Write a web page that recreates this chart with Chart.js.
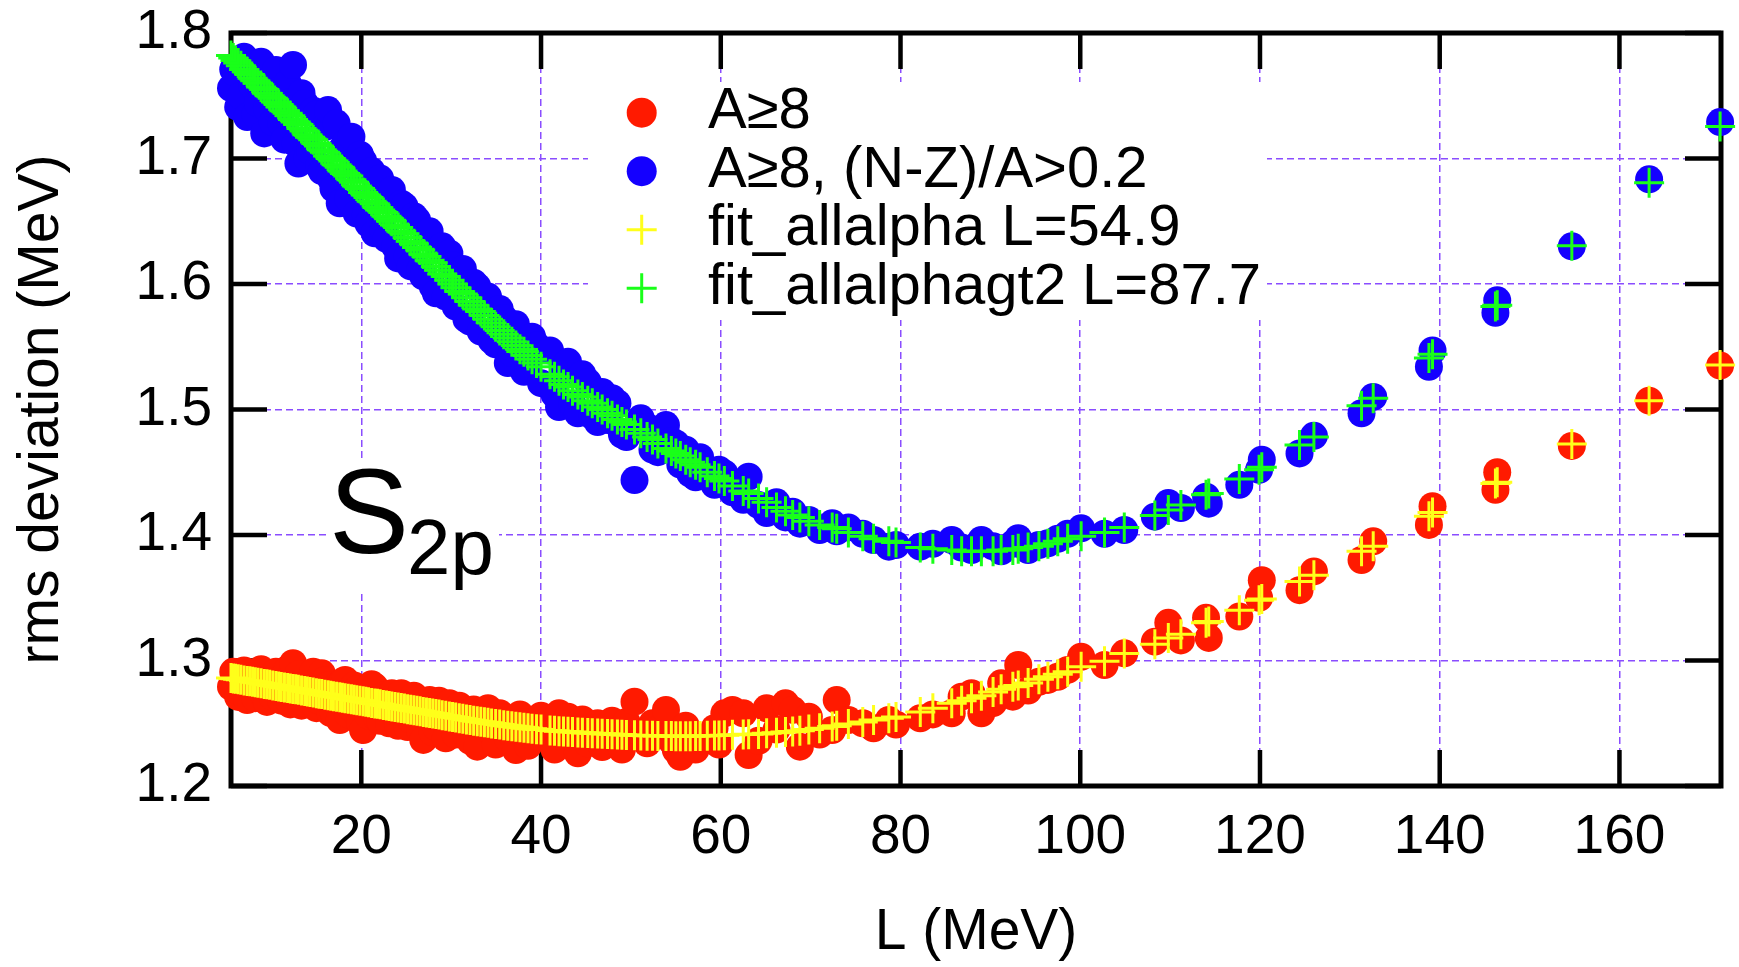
<!DOCTYPE html>
<html><head><meta charset="utf-8">
<script src="https://cdn.jsdelivr.net/npm/chart.js@4.4.1/dist/chart.umd.min.js"></script>
<style>html,body{margin:0;padding:0;background:#fff;overflow:hidden}#wrap{width:1739px;height:967px;position:relative}</style>
</head><body><div id="wrap"><canvas id="c" width="1739" height="967"></canvas></div>
<script>
// ---- data (L in MeV, rms deviation in MeV) ----
const L = [
 5.5, 5.75, 6.0, 6.3, 6.6, 6.95, 7.3, 7.6, 7.9, 8.2,
 8.5, 8.85, 9.2, 9.5, 9.8, 10.15, 10.5, 10.8, 11.1, 11.45,
 11.8, 12.1, 12.4, 12.7, 13.0, 13.35, 13.7, 14.0, 14.3, 14.65,
 15.0, 15.3, 15.6, 15.95, 16.3, 16.6, 16.9, 17.25, 17.6, 17.9,
 18.2, 18.55, 18.9, 19.2, 19.5, 19.85, 20.2, 20.5, 20.8, 21.15,
 21.5, 21.8, 22.1, 22.45, 22.8, 23.1, 23.4, 23.75, 24.1, 24.45,
 24.8, 25.15, 25.5, 25.85, 26.2, 26.55, 26.9, 27.25, 27.6, 27.95,
 28.3, 28.65, 29.0, 29.4, 29.8, 30.15, 30.5, 30.9, 31.3, 31.7,
 32.1, 32.5, 32.9, 33.3, 33.7, 34.1, 34.5, 34.95, 35.4, 35.85,
 36.3, 36.75, 37.2, 37.65, 38.1, 38.55, 39.0, 39.5, 40.0, 41.0,
 41.5, 42.0, 42.5, 43.0, 43.5, 44.1, 44.6, 45.2, 45.7, 46.3,
 46.8, 47.4, 47.9, 48.5, 49.0, 49.5, 50.4, 51.1, 51.8, 52.4,
 53.0, 53.9, 54.5, 55.0, 55.5, 56.1, 56.6, 57.2, 57.7, 58.5,
 59.3, 59.8, 60.4, 61.3, 62.5, 63.1, 64.2, 65.1, 66.2, 67.2,
 68.0, 68.8, 69.8, 71.0, 72.4, 72.9, 74.2, 75.8, 77.0, 78.7,
 79.5, 82.2, 83.6, 85.7, 86.8, 87.9, 89.0, 90.3, 91.2, 92.5,
 93.1, 94.2, 95.4, 96.4, 97.5, 98.6, 100.1, 102.7, 104.9, 108.3,
 109.8, 111.2, 114.0, 114.3, 117.7, 119.9, 120.2, 124.4, 126.0, 131.3,
 132.6, 138.8, 139.2, 146.2, 146.4, 154.7, 163.3, 171.2
];
// red circles: A>=8
const rmsA8 = [
 1.279, 1.291, 1.282, 1.271, 1.274, 1.292, 1.2685, 1.287, 1.277, 1.270,
 1.289, 1.293, 1.272, 1.267, 1.286, 1.271, 1.291, 1.284, 1.268, 1.276,
 1.293, 1.265, 1.2978, 1.283, 1.289, 1.264, 1.266, 1.280, 1.285, 1.291,
 1.262, 1.268, 1.2898, 1.284, 1.280, 1.258, 1.259, 1.279, 1.2526, 1.283,
 1.2845, 1.257, 1.262, 1.280, 1.277, 1.251, 1.2446, 1.276, 1.256, 1.281,
 1.279, 1.254, 1.252, 1.272, 1.271, 1.250, 1.2739, 1.258, 1.248, 1.274,
 1.266, 1.247, 1.253, 1.272, 1.2695, 1.244, 1.2367, 1.262, 1.2685, 1.243,
 1.247, 1.268, 1.262, 1.238, 1.2659, 1.252, 1.241, 1.264, 1.258, 1.240,
 1.236, 1.261, 1.2313, 1.248, 1.255, 1.262, 1.243, 1.233, 1.258, 1.255,
 1.238, 1.241, 1.2287, 1.257, 1.251, 1.232, 1.240, 1.252, 1.256, 1.236,
 1.229, 1.2579, 1.246, 1.2552, 1.238, 1.226, 1.253, 1.234, 1.247, 1.250,
 1.231, 1.244, 1.252, 1.2367, 1.229, 1.251, 1.2672, 1.242, 1.234, 1.250,
 1.245, 1.2606, 1.236, 1.2287, 1.2233, 1.248, 1.242, 1.229, 1.236, 1.2367,
 1.246, 1.233, 1.2579, 1.2606, 1.2579, 1.2247, 1.236, 1.2619, 1.245, 1.2659,
 1.2606, 1.2313, 1.2552, 1.241, 1.2446, 1.2685, 1.2525, 1.250, 1.246, 1.2526,
 1.249, 1.254, 1.257, 1.2579, 1.2712, 1.274, 1.2579, 1.266, 1.2818, 1.2712,
 1.2964, 1.276, 1.283, 1.2845, 1.287, 1.2925, 1.303, 1.2964, 1.3057, 1.315,
 1.330, 1.316, 1.334, 1.318, 1.335, 1.350, 1.364, 1.356, 1.371, 1.380,
 1.395, 1.408, 1.423, 1.436, 1.450, 1.471, 1.507, 1.535
];
// blue circles: A>=8, (N-Z)/A>0.2
const rmsA8nz = [
 1.756, 1.771, 1.768, 1.741, 1.750, 1.781, 1.733, 1.772, 1.758, 1.735,
 1.744, 1.777, 1.720, 1.740, 1.762, 1.729, 1.7705, 1.754, 1.728, 1.715,
 1.760, 1.745, 1.7745, 1.712, 1.696, 1.752, 1.744, 1.700, 1.706, 1.738,
 1.735, 1.694, 1.690, 1.725, 1.7386, 1.684, 1.676, 1.728, 1.6643, 1.708,
 1.712, 1.668, 1.7174, 1.694, 1.656, 1.703, 1.698, 1.655, 1.648, 1.690,
 1.6404, 1.678, 1.684, 1.643, 1.636, 1.668, 1.675, 1.630, 1.6204, 1.664,
 1.662, 1.622, 1.614, 1.654, 1.651, 1.611, 1.606, 1.640, 1.642, 1.598,
 1.5926, 1.628, 1.630, 1.590, 1.6244, 1.615, 1.582, 1.604, 1.612, 1.572,
 1.570, 1.601, 1.598, 1.562, 1.5846, 1.590, 1.555, 1.552, 1.580, 1.573,
 1.537, 1.545, 1.568, 1.560, 1.530, 1.533, 1.558, 1.551, 1.521, 1.547,
 1.512, 1.502, 1.531, 1.538, 1.504, 1.497, 1.528, 1.522, 1.495, 1.490,
 1.514, 1.4916, 1.509, 1.505, 1.480, 1.478, 1.4438, 1.493, 1.486, 1.468,
 1.466, 1.4876, 1.475, 1.473, 1.456, 1.468, 1.449, 1.446, 1.462, 1.4518,
 1.440, 1.452, 1.449, 1.434, 1.428, 1.4465, 1.424, 1.4175, 1.426, 1.414,
 1.4186, 1.409, 1.412, 1.404, 1.4093, 1.403, 1.406, 1.401, 1.396, 1.3907,
 1.392, 1.3907, 1.393, 1.396, 1.390, 1.388, 1.396, 1.391, 1.387, 1.393,
 1.3974, 1.388, 1.392, 1.3934, 1.397, 1.401, 1.4053, 1.401, 1.404, 1.4146,
 1.4255, 1.4215, 1.4305, 1.425, 1.440, 1.452, 1.460, 1.465, 1.479, 1.497,
 1.510, 1.534, 1.547, 1.577, 1.587, 1.630, 1.6834, 1.729
];
// yellow crosses: fit_allalpha
const fitAllalpha = [
 1.286, 1.2857, 1.2854, 1.285, 1.2846, 1.2841, 1.2837, 1.2834, 1.283, 1.2826,
 1.2822, 1.2818, 1.2813, 1.281, 1.2806, 1.2801, 1.2797, 1.2793, 1.2789, 1.2785,
 1.2781, 1.2777, 1.2773, 1.277, 1.2766, 1.2761, 1.2757, 1.2753, 1.2749, 1.2745,
 1.274, 1.2736, 1.2733, 1.2728, 1.2724, 1.272, 1.2716, 1.2712, 1.2708, 1.2704,
 1.270, 1.2696, 1.2691, 1.2688, 1.2684, 1.2679, 1.2675, 1.2671, 1.2667, 1.2662,
 1.2658, 1.2655, 1.2651, 1.2646, 1.2642, 1.2638, 1.2634, 1.263, 1.2626, 1.2621,
 1.2617, 1.2612, 1.2608, 1.2604, 1.2599, 1.2595, 1.259, 1.2586, 1.2582, 1.2578,
 1.2573, 1.2569, 1.2564, 1.2559, 1.2554, 1.255, 1.2545, 1.254, 1.2535, 1.253,
 1.2525, 1.252, 1.2516, 1.2511, 1.2507, 1.2503, 1.2499, 1.2494, 1.249, 1.2485,
 1.2481, 1.2477, 1.2473, 1.2469, 1.2465, 1.2461, 1.2457, 1.2453, 1.245, 1.2443,
 1.244, 1.2437, 1.2435, 1.2432, 1.243, 1.2427, 1.2425, 1.2422, 1.242, 1.2418,
 1.2416, 1.2414, 1.2412, 1.241, 1.2408, 1.2407, 1.2404, 1.2402, 1.2401, 1.240,
 1.2399, 1.2398, 1.2398, 1.2397, 1.2397, 1.2397, 1.2397, 1.2398, 1.2398, 1.240,
 1.2402, 1.2403, 1.2405, 1.2408, 1.241, 1.2412, 1.2415, 1.242, 1.2425, 1.243,
 1.2435, 1.244, 1.245, 1.246, 1.2475, 1.248, 1.2495, 1.251, 1.2525, 1.254,
 1.255, 1.259, 1.262, 1.266, 1.268, 1.270, 1.272, 1.275, 1.277, 1.279,
 1.280, 1.282, 1.285, 1.287, 1.289, 1.291, 1.295, 1.2995, 1.3055, 1.313,
 1.318, 1.321, 1.330, 1.331, 1.340, 1.348, 1.349, 1.363, 1.368, 1.387,
 1.391, 1.415, 1.418, 1.441, 1.442, 1.4725, 1.507, 1.5355
];
// green crosses: fit_allalphagt2
const fitAllalphagt2 = [
 1.782, 1.780, 1.778, 1.776, 1.774, 1.771, 1.769, 1.767, 1.764, 1.762,
 1.760, 1.757, 1.755, 1.752, 1.750, 1.748, 1.745, 1.743, 1.741, 1.738,
 1.736, 1.734, 1.731, 1.729, 1.727, 1.724, 1.722, 1.719, 1.717, 1.715,
 1.712, 1.710, 1.707, 1.705, 1.702, 1.700, 1.698, 1.695, 1.693, 1.690,
 1.688, 1.686, 1.683, 1.681, 1.678, 1.676, 1.673, 1.671, 1.669, 1.666,
 1.664, 1.661, 1.659, 1.657, 1.654, 1.652, 1.650, 1.647, 1.645, 1.642,
 1.640, 1.637, 1.634, 1.632, 1.629, 1.627, 1.624, 1.622, 1.619, 1.617,
 1.614, 1.611, 1.608, 1.606, 1.603, 1.600, 1.597, 1.594, 1.592, 1.589,
 1.586, 1.583, 1.580, 1.578, 1.575, 1.572, 1.569, 1.566, 1.563, 1.560,
 1.557, 1.554, 1.551, 1.548, 1.546, 1.543, 1.540, 1.537, 1.534, 1.528,
 1.526, 1.523, 1.520, 1.518, 1.515, 1.512, 1.510, 1.507, 1.505, 1.502,
 1.500, 1.497, 1.495, 1.492, 1.490, 1.488, 1.484, 1.481, 1.478, 1.476,
 1.473, 1.469, 1.467, 1.465, 1.463, 1.460, 1.458, 1.456, 1.454, 1.450,
 1.447, 1.445, 1.443, 1.439, 1.435, 1.433, 1.429, 1.426, 1.422, 1.419,
 1.416, 1.414, 1.411, 1.408, 1.406, 1.405, 1.402, 1.399, 1.397, 1.395,
 1.394, 1.390, 1.389, 1.388, 1.387, 1.387, 1.387, 1.387, 1.388, 1.388,
 1.389, 1.390, 1.391, 1.393, 1.395, 1.397, 1.399, 1.402, 1.406, 1.4155,
 1.420, 1.424, 1.432, 1.433, 1.4446, 1.452, 1.454, 1.4717, 1.478, 1.503,
 1.509, 1.541, 1.544, 1.582, 1.583, 1.6305, 1.6807, 1.7255
];
const seriesLabels = ['A\u22658', 'A\u22658, (N-Z)/A>0.2', 'fit_allalpha L=54.9', 'fit_allalphagt2 L=87.7'];
const xTicks = [20, 40, 60, 80, 100, 120, 140, 160];
const xTickLabels = ['20', '40', '60', '80', '100', '120', '140', '160'];
const yTicks = [1.2, 1.3, 1.4, 1.5, 1.6, 1.7, 1.8];
const yTickLabels = ['1.2', '1.3', '1.4', '1.5', '1.6', '1.7', '1.8'];
const xTitle = 'L (MeV)';
const yTitle = 'rms deviation (MeV)';
const panelLabel = ['S', '2p'];

// ---- styling ----
const FONT = '"Liberation Sans", Arial, Helvetica, sans-serif';
const COLORS = ['#ff1a00', '#1400ff', '#ffff1a', '#19ff19'];
const GRID = '#8a4dff';

const pts = (ys) => L.map((x, i) => ({x: x, y: ys[i]}));

const circleDS = (i, ys, order) => ({
  label: seriesLabels[i], data: pts(ys), pointStyle: 'circle',
  pointRadius: 14, pointHoverRadius: 14, pointBorderWidth: 0,
  backgroundColor: COLORS[i], borderColor: COLORS[i], showLine: false, clip: false, order: order
});
const crossDS = (i, ys, order) => ({
  label: seriesLabels[i], data: pts(ys), pointStyle: 'cross',
  pointRadius: 15, pointHoverRadius: 15, pointBorderWidth: 3,
  backgroundColor: COLORS[i], borderColor: COLORS[i], showLine: false, clip: false, order: order
});

const decor = {
  id: 'decor',
  beforeDatasetsDraw(chart) {
    const {ctx, chartArea: a, scales} = chart;
    const x = scales.x, y = scales.y;
    ctx.save();
    // opaque boxes behind key and panel label
    ctx.fillStyle = '#ffffff';
    ctx.fillRect(588, 82, 679, 238);
    ctx.fillRect(327, 460, 172, 133);
    // panel label S_2p
    ctx.fillStyle = '#000';
    ctx.textBaseline = 'alphabetic';
    ctx.textAlign = 'left';
    ctx.font = '120px ' + FONT;
    ctx.fillText(panelLabel[0], 329, 553);
    ctx.font = '78px ' + FONT;
    ctx.fillText(panelLabel[1], 407, 574);
    // frame
    ctx.strokeStyle = '#000';
    ctx.lineWidth = 5;
    ctx.strokeRect(a.left, a.top, a.right - a.left, a.bottom - a.top);
    // inward ticks on all sides
    ctx.lineWidth = 4.5;
    const T = 36;
    ctx.beginPath();
    xTicks.forEach(v => {
      const px = x.getPixelForValue(v);
      ctx.moveTo(px, a.bottom); ctx.lineTo(px, a.bottom - T);
      ctx.moveTo(px, a.top); ctx.lineTo(px, a.top + T);
    });
    yTicks.forEach(v => {
      const py = y.getPixelForValue(v);
      ctx.moveTo(a.left, py); ctx.lineTo(a.left + T, py);
      ctx.moveTo(a.right, py); ctx.lineTo(a.right - T, py);
    });
    ctx.stroke();
    ctx.restore();
  },
  afterDatasetsDraw(chart) {
    const ctx = chart.ctx;
    ctx.save();
    const mx = 641.7, tx = 708, y0 = 112.7, dy = 58.5;
    ctx.font = '58px ' + FONT;
    ctx.textAlign = 'left';
    ctx.textBaseline = 'alphabetic';
    [0, 1, 2, 3].forEach((k, r) => {
      const ds = chart.data.datasets[k];
      const cy = y0 + r * dy;
      if (ds.pointStyle === 'circle') {
        ctx.fillStyle = ds.backgroundColor;
        ctx.beginPath(); ctx.arc(mx, cy, 15, 0, Math.PI * 2); ctx.fill();
      } else {
        ctx.strokeStyle = ds.borderColor; ctx.lineWidth = 3;
        ctx.beginPath();
        ctx.moveTo(mx - 15, cy); ctx.lineTo(mx + 15, cy);
        ctx.moveTo(mx, cy - 15); ctx.lineTo(mx, cy + 15);
        ctx.stroke();
      }
      ctx.fillStyle = '#000';
      ctx.fillText(ds.label, tx, cy + 15.7);
    });
    ctx.restore();
  }
};

new Chart(document.getElementById('c'), {
  type: 'scatter',
  data: {
    datasets: [
      circleDS(0, rmsA8, 4),
      circleDS(1, rmsA8nz, 3),
      crossDS(2, fitAllalpha, 2),
      crossDS(3, fitAllalphagt2, 1)
    ]
  },
  options: {
    responsive: false, animation: false, devicePixelRatio: 1,
    layout: {padding: {left: 0, right: 8, top: 33, bottom: 0}},
    plugins: {legend: {display: false}, tooltip: {enabled: false}, title: {display: false}},
    scales: {
      x: {
        type: 'linear', min: 5.5, max: 171.3,
        afterBuildTicks: (s) => { s.ticks = xTicks.map(v => ({value: v})); },
        afterFit: (s) => { s.height = 181; s.paddingLeft = 0; s.paddingRight = 0; },
        grid: {color: GRID, lineWidth: 1.5, drawTicks: false},
        border: {display: false, dash: [7, 4]},
        ticks: {
          color: '#000', padding: 19, maxRotation: 0, autoSkip: false,
          font: {family: FONT, size: 55},
          callback: (v, i) => xTickLabels[i]
        },
        title: {display: true, text: xTitle, color: '#000', font: {family: FONT, size: 57, lineHeight: 1}, padding: {top: 0, bottom: 5}}
      },
      y: {
        type: 'linear', min: 1.2, max: 1.8,
        afterBuildTicks: (s) => { s.ticks = yTicks.map(v => ({value: v})); },
        afterFit: (s) => { s.width = 231; s.paddingTop = 0; s.paddingBottom = 0; },
        grid: {color: GRID, lineWidth: 1.5, drawTicks: false},
        border: {display: false, dash: [7, 4]},
        ticks: {
          color: '#000', padding: 19, autoSkip: false,
          font: {family: FONT, size: 55},
          callback: (v, i) => yTickLabels[i]
        },
        title: {display: true, text: yTitle, color: '#000', font: {family: FONT, size: 57, lineHeight: 1}, padding: {top: 14, bottom: 0}}
      }
    }
  },
  plugins: [decor]
});
</script>
</body></html>
